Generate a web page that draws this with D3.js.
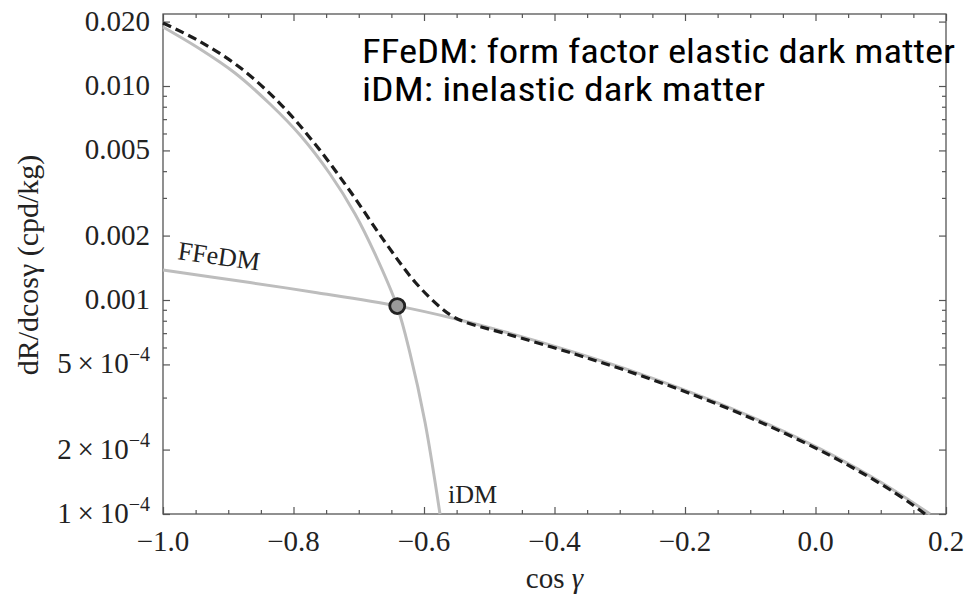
<!DOCTYPE html>
<html>
<head>
<meta charset="utf-8">
<script src="https://cdn.jsdelivr.net/npm/d3@7"></script>
<style>
  body { margin: 0; background: #fff; }
  svg { display: block; }
  .tick line { stroke: #555; stroke-width: 1.2; }
  .tick text { display: none; }
  .domain { display: none; }
</style>
</head>
<body>
<svg id="chart" width="971" height="597"></svg>
<script>
// Form-factor elastic dark matter rate vs cos(gamma)
const ffCos  = [-1.0, -0.8667, -0.764, -0.6414, -0.5525, -0.4728, -0.3716, -0.269, -0.1663, -0.0697, 0.0222, 0.0989, 0.1448, 0.1755];
const ffRate = [0.001381, 0.001206, 0.001082, 0.0009385, 0.0008177, 0.0007048, 0.0005715, 0.000452, 0.0003462, 0.0002604, 0.0001911, 0.0001414, 0.0001154, 0.0001];

// Inelastic dark matter rate vs cos(gamma)
const idmCos  = [-1.0, -0.9433, -0.8897, -0.836, -0.790, -0.744, -0.7057, -0.6751, -0.6414, -0.6215, -0.5985, -0.5755];
const idmRate = [0.01887, 0.01489, 0.01150, 0.00824, 0.00590, 0.00388, 0.002523, 0.001641, 0.000937, 0.000565, 0.000269, 0.0001];

// Combined rate (dashed)
const totCos  = [-1.0, -0.9433, -0.882, -0.8207, -0.767, -0.7134, -0.6598, -0.6138, -0.5755, -0.5571, -0.5372,
                 -0.4728, -0.3716, -0.269, -0.1663, -0.0697, 0.0222, 0.0989, 0.1448, 0.1678];
const totRate = [0.0197, 0.01614, 0.0122, 0.00828, 0.005358, 0.003231, 0.001866, 0.001214, 0.000927, 0.000842, 0.000789,
                 0.0006935, 0.0005623, 0.0004447, 0.000341, 0.0002564, 0.0001877, 0.0001388, 0.0001126, 0.0001];

// Crossing point of the two models
const crossCos = -0.641;
const crossRate = 0.000937;

// Axis ticks and labels
const xMajor = [-1.0, -0.8, -0.6, -0.4, -0.2, 0.0, 0.2];
const xLabels = ["\u22121.0", "\u22120.8", "\u22120.6", "\u22120.4", "\u22120.2", "0.0", "0.2"];
const xMinor = [-0.95, -0.9, -0.85, -0.75, -0.7, -0.65, -0.55, -0.5, -0.45, -0.35, -0.3, -0.25, -0.15, -0.1, -0.05, 0.05, 0.1, 0.15];
const yMajor = [0.02, 0.01, 0.005, 0.002, 0.001, 0.0005, 0.0002, 0.0001];
const yLabelMant = ["0.020", "0.010", "0.005", "0.002", "0.001", "5\u2009\u00d7\u200910", "2\u2009\u00d7\u200910", "1\u2009\u00d7\u200910"];
const yLabelExp  = ["", "", "", "", "", "\u22124", "\u22124", "\u22124"];
const yMinor = [0.009, 0.008, 0.007, 0.006, 0.004, 0.003, 0.0009, 0.0008, 0.0007, 0.0006, 0.00035];

const svg = d3.select("#chart");
const L = 163, R = 946, T = 14, B = 514;

const x = d3.scaleLinear().domain([-1, 0.2]).range([L, R]);
const y = d3.scaleLog().domain([1e-4, 0.0217]).range([B, T]);

const serif = "'Liberation Serif', 'Times New Roman', 'DejaVu Serif', serif";
const ink = "#222";

// Ticks on all four sides, pointing inward
const tickSets = [
  [d3.axisLeft(y).tickValues(yMajor).tickSize(-7), `translate(${L},0)`],
  [d3.axisLeft(y).tickValues(yMinor).tickSize(-4), `translate(${L},0)`],
  [d3.axisRight(y).tickValues(yMajor).tickSize(-7), `translate(${R},0)`],
  [d3.axisRight(y).tickValues(yMinor).tickSize(-4), `translate(${R},0)`],
  [d3.axisBottom(x).tickValues(xMajor).tickSize(-7), `translate(0,${B})`],
  [d3.axisBottom(x).tickValues(xMinor).tickSize(-4), `translate(0,${B})`],
  [d3.axisTop(x).tickValues(xMajor).tickSize(-7), `translate(0,${T})`],
  [d3.axisTop(x).tickValues(xMinor).tickSize(-4), `translate(0,${T})`]
];
tickSets.forEach(([ax, tr]) => {
  svg.append("g").attr("transform", tr).call(ax.tickFormat(""));
});

// Frame
svg.append("rect")
  .attr("x", L).attr("y", T).attr("width", R - L).attr("height", B - T)
  .attr("fill", "none").attr("stroke", "#555").attr("stroke-width", 1.3);

// Tick labels
svg.append("g").selectAll("text").data(xMajor).join("text")
  .attr("x", d => x(d)).attr("y", B + 37)
  .attr("text-anchor", "middle")
  .attr("font-family", serif).attr("font-size", 29).attr("fill", ink)
  .text((d, i) => xLabels[i]);

const yl = svg.append("g").selectAll("text").data(yMajor).join("text")
  .attr("x", L - 13).attr("y", d => y(d) + 9)
  .attr("text-anchor", "end")
  .attr("font-family", serif).attr("font-size", 29).attr("fill", ink);
yl.append("tspan").text((d, i) => yLabelMant[i]);
yl.append("tspan").attr("dy", -12).attr("font-size", 20).text((d, i) => yLabelExp[i]);

// Axis titles
const xt = svg.append("text")
  .attr("x", (L + R) / 2).attr("y", 588)
  .attr("text-anchor", "middle")
  .attr("font-family", serif).attr("font-size", 29).attr("fill", ink);
xt.append("tspan").text("cos ");
xt.append("tspan").attr("font-style", "italic").text("\u03b3");

svg.append("text")
  .attr("transform", `translate(38,265) rotate(-90)`)
  .attr("text-anchor", "middle")
  .attr("font-family", serif).attr("font-size", 30).attr("fill", ink)
  .text("dR/dcos\u03b3 (cpd/kg)");

// Curves
const plot = svg.append("g");
const line = d3.line().x(d => x(d[0])).y(d => y(d[1])).curve(d3.curveCatmullRom.alpha(0.5));

plot.append("path")
  .datum(ffCos.map((c, i) => [c, ffRate[i]]))
  .attr("d", line).attr("fill", "none")
  .attr("stroke", "#bdbdbd").attr("stroke-width", 3);

plot.append("path")
  .datum(idmCos.map((c, i) => [c, idmRate[i]]))
  .attr("d", line).attr("fill", "none")
  .attr("stroke", "#bdbdbd").attr("stroke-width", 3);

plot.append("path")
  .datum(totCos.map((c, i) => [c, totRate[i]]))
  .attr("d", line).attr("fill", "none")
  .attr("stroke", "#1c1c1c").attr("stroke-width", 3.2)
  .attr("stroke-dasharray", "9,5");

plot.append("circle")
  .attr("cx", x(crossCos)).attr("cy", y(crossRate)).attr("r", 7.5)
  .attr("fill", "#9a9a9a").attr("stroke", "#222").attr("stroke-width", 2.8);

// Curve labels
svg.append("text")
  .attr("transform", `translate(177,259) rotate(8)`)
  .attr("font-family", serif).attr("font-size", 26).attr("fill", ink)
  .text("FFeDM");

svg.append("text")
  .attr("x", 448).attr("y", 503)
  .attr("font-family", serif).attr("font-size", 26).attr("fill", ink)
  .text("iDM");

// Legend notes
const sans = "'Liberation Sans Narrow', 'Roboto Condensed', Roboto, 'Liberation Sans', sans-serif";
svg.append("text")
  .attr("x", 362).attr("y", 63)
  .attr("font-family", sans).attr("font-size", 33).attr("fill", "#000")
  .attr("textLength", 593).attr("lengthAdjust", "spacingAndGlyphs")
  .text("FFeDM: form factor elastic dark matter");
svg.append("text")
  .attr("x", 362).attr("y", 101)
  .attr("font-family", sans).attr("font-size", 33).attr("fill", "#000")
  .attr("textLength", 403).attr("lengthAdjust", "spacingAndGlyphs")
  .text("iDM: inelastic dark matter");
</script>
</body>
</html>
